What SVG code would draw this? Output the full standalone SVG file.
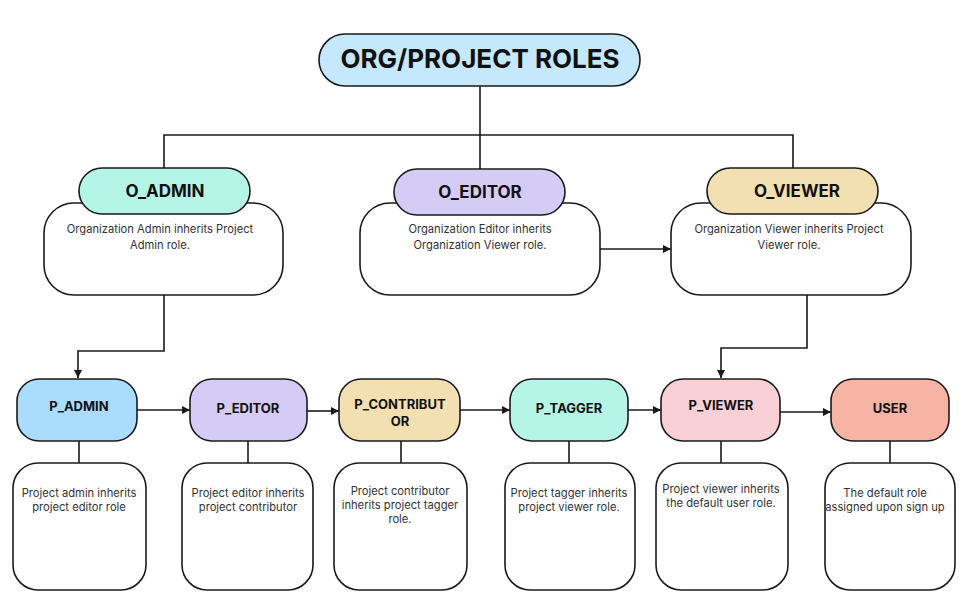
<svg xmlns="http://www.w3.org/2000/svg" width="964" height="610" viewBox="0 0 964 610">
<style>
.bx{stroke:#1a1a1a;stroke-width:1.6}
.desc{fill:#ffffff;stroke:#1a1a1a;stroke-width:1.6}
.ln{fill:none;stroke:#1a1a1a;stroke-width:1.6}
.t{font-family:Inter,"Liberation Sans",sans-serif;fill:#111;text-anchor:middle}
.h{font-weight:700;font-size:17px}
.p{font-weight:700;font-size:13px}
.s{font-size:11.2px;fill:#333}
</style>
<defs>
<marker id="ah" viewBox="0 0 8 8" refX="8" refY="4" markerWidth="8" markerHeight="8" markerUnits="userSpaceOnUse" orient="auto">
<path d="M0,0 L8,4 L0,8 Z" fill="#1a1a1a"/>
</marker>
</defs>
<rect width="964" height="610" fill="#ffffff"/>
<g id="connectors">
<path class="ln" d="M480,86 V169"/>
<path class="ln" d="M164,168 V135 H793 V168"/>
<path class="ln" d="M600,249 H671" marker-end="url(#ah)"/>
<path class="ln" d="M164,295 V351 H78 V378" marker-end="url(#ah)"/>
<path class="ln" d="M807,295 V348 H721 V378" marker-end="url(#ah)"/>
<path class="ln" d="M137,410 H190" marker-end="url(#ah)"/>
<path class="ln" d="M307,411 H339" marker-end="url(#ah)"/>
<path class="ln" d="M460,410 H510" marker-end="url(#ah)"/>
<path class="ln" d="M628,410 H661" marker-end="url(#ah)"/>
<path class="ln" d="M780,412 H831" marker-end="url(#ah)"/>
<path class="ln" d="M79,441 V463 M248,441 V463 M401,441 V463 M569,441 V463 M721,441 V463 M890,441 V463"/>
</g>
<g id="title">
<rect class="bx" x="319" y="34" width="321" height="52" rx="26" fill="#c5e8fd"/>
<text class="t" x="480" y="68" font-size="26" font-weight="700">ORG/PROJECT ROLES</text>
</g>
<g id="o_admin">
<rect class="desc" x="44" y="203" width="239" height="92" rx="30"/>
<rect class="bx" x="79" y="168" width="171" height="46" rx="23" fill="#b5f5e8"/>
<text class="t h" x="165" y="197">O_ADMIN</text>
<text class="t s" x="160" y="233">Organization Admin inherits Project</text>
<text class="t s" x="160" y="249">Admin role.</text>
</g>
<g id="o_editor">
<rect class="desc" x="360" y="203" width="240" height="92" rx="30"/>
<rect class="bx" x="394" y="169" width="171" height="46" rx="23" fill="#d5ccf5"/>
<text class="t h" x="480" y="198">O_EDITOR</text>
<text class="t s" x="480" y="233">Organization Editor inherits</text>
<text class="t s" x="480" y="249">Organization Viewer role.</text>
</g>
<g id="o_viewer">
<rect class="desc" x="671" y="203" width="240" height="92" rx="30"/>
<rect class="bx" x="707" y="168" width="171" height="46" rx="23" fill="#f2e0b3"/>
<text class="t h" x="797" y="197">O_VIEWER</text>
<text class="t s" x="789" y="233">Organization Viewer inherits Project</text>
<text class="t s" x="789" y="249">Viewer role.</text>
</g>
<g id="p_admin">
<rect class="bx" x="17" y="379" width="120" height="62" rx="22" fill="#aadcfd"/>
<text class="t p" x="79" y="411">P_ADMIN</text>
<rect class="desc" x="13" y="463" width="133" height="127" rx="25"/>
<text class="t s" x="79" y="497">Project admin inherits</text>
<text class="t s" x="79" y="511">project editor role</text>
</g>
<g id="p_editor">
<rect class="bx" x="190" y="379" width="117" height="62" rx="22" fill="#d5ccf5"/>
<text class="t p" x="248" y="413">P_EDITOR</text>
<rect class="desc" x="182" y="463" width="131" height="127" rx="25"/>
<text class="t s" x="248" y="497">Project editor inherits</text>
<text class="t s" x="248" y="511">project contributor</text>
</g>
<g id="p_contributor">
<rect class="bx" x="339" y="379" width="121" height="62" rx="22" fill="#f2e0b3"/>
<text class="t p" x="400" y="409">P_CONTRIBUT</text>
<text class="t p" x="400" y="426">OR</text>
<rect class="desc" x="334" y="463" width="133" height="127" rx="25"/>
<text class="t s" x="400" y="495">Project contributor</text>
<text class="t s" x="400" y="509">inherits project tagger</text>
<text class="t s" x="400" y="523">role.</text>
</g>
<g id="p_tagger">
<rect class="bx" x="510" y="379" width="118" height="62" rx="22" fill="#b5f5e8"/>
<text class="t p" x="569" y="413">P_TAGGER</text>
<rect class="desc" x="505" y="463" width="130" height="127" rx="25"/>
<text class="t s" x="569" y="497">Project tagger inherits</text>
<text class="t s" x="569" y="511">project viewer role.</text>
</g>
<g id="p_viewer">
<rect class="bx" x="661" y="379" width="119" height="62" rx="22" fill="#f8d0d6"/>
<text class="t p" x="721" y="410">P_VIEWER</text>
<rect class="desc" x="656" y="463" width="132" height="127" rx="25"/>
<text class="t s" x="721" y="493">Project viewer inherits</text>
<text class="t s" x="721" y="507">the default user role.</text>
</g>
<g id="user">
<rect class="bx" x="831" y="379" width="118" height="62" rx="22" fill="#f7b3a3"/>
<text class="t p" x="890" y="413">USER</text>
<rect class="desc" x="825" y="463" width="130" height="127" rx="25"/>
<text class="t s" x="885" y="497">The default role</text>
<text class="t s" x="885" y="511">assigned upon sign up</text>
</g>
</svg>
